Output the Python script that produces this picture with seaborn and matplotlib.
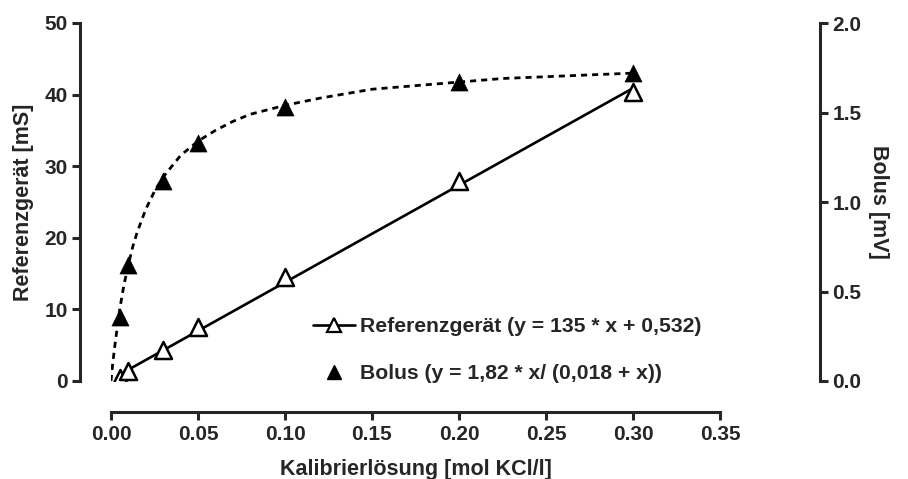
import matplotlib
matplotlib.use("Agg")
import matplotlib.pyplot as plt
from matplotlib.lines import Line2D
import seaborn as sns
import pandas as pd

# measured concentrations [mol KCl/l]
conc = [0.005, 0.01, 0.03, 0.05, 0.1, 0.2, 0.3]
# reference device [mS]
ref_ms = [0.4, 1.4, 4.3, 7.5, 14.5, 28.0, 40.4]
# bolus [mV]
bolus_mv = [0.36, 0.65, 1.12, 1.33, 1.53, 1.67, 1.72]

# fitted lines
ref_fit_x = [0.005, 0.3]
ref_fit_y = [0.9, 40.9]
bolus_fit_x = [0.0, 0.001, 0.0025, 0.005, 0.0075, 0.01, 0.0125, 0.015, 0.02,
               0.025, 0.03, 0.035, 0.04, 0.05, 0.06, 0.07, 0.08, 0.1, 0.12,
               0.15, 0.175, 0.2, 0.225, 0.25, 0.275, 0.3]
bolus_fit_y = [0.0, 0.10, 0.22, 0.40, 0.54, 0.65, 0.75, 0.83, 0.96,
               1.06, 1.14, 1.20, 1.26, 1.34, 1.40, 1.45, 1.49, 1.54, 1.58,
               1.63, 1.65, 1.67, 1.69, 1.70, 1.71, 1.72]

ref_label = "Referenzgerät (y = 135 * x + 0,532)"
bolus_label = "Bolus (y = 1,82 * x/ (0,018 + x))"

sns.set_style("ticks")
plt.rcParams['font.family'] = ['Liberation Sans', 'DejaVu Sans']
plt.rcParams['font.weight'] = 'bold'

PX = 72 / 100  # pixels -> points

fig = plt.figure(figsize=(9.08, 4.79), dpi=100)
ax = fig.add_axes([111 / 908, 1 - 381 / 479, (720 - 111) / 908, (381 - 23) / 479])
ax2 = ax.twinx()

df_ref = pd.DataFrame({"x": conc, "y": ref_ms})
df_bol = pd.DataFrame({"x": conc, "y": bolus_mv})

sns.lineplot(x=ref_fit_x, y=ref_fit_y, ax=ax, color="black", lw=1.9)
sns.scatterplot(data=df_ref, x="x", y="y", ax=ax, marker="^", s=150,
                facecolor="white", edgecolor="black", linewidth=1.8, zorder=3)

sns.lineplot(x=bolus_fit_x, y=bolus_fit_y, ax=ax2, color="black", lw=2.0,
             linestyle=(0, (2.2, 1.8)))
sns.scatterplot(data=df_bol, x="x", y="y", ax=ax2, marker="^", s=150,
                color="black", edgecolor="black", linewidth=0.5, zorder=3)

ax.set_xlim(0, 0.35)
ax.set_ylim(0, 50)
ax2.set_ylim(0, 2.0)
ax.set_xticks([0.0, 0.05, 0.1, 0.15, 0.2, 0.25, 0.3, 0.35])
ax.set_xticklabels([f"{v:.2f}" for v in ax.get_xticks()])
ax.set_yticks([0, 10, 20, 30, 40, 50])
ax2.set_yticks([0.0, 0.5, 1.0, 1.5, 2.0])
ax2.set_yticklabels([f"{v:.1f}" for v in ax2.get_yticks()])

for a in (ax, ax2):
    a.spines['top'].set_visible(False)
    for s in a.spines.values():
        s.set_linewidth(2.2)
    a.tick_params(width=2.2, length=6, labelsize=15, pad=3)
    for lbl in a.get_xticklabels() + a.get_yticklabels():
        lbl.set_fontweight('bold')

ax.spines['right'].set_visible(False)
ax.spines['left'].set_position(('outward', 31 * PX))
ax.spines['bottom'].set_position(('outward', 31 * PX))
ax2.spines['left'].set_visible(False)
ax2.spines['bottom'].set_visible(False)
ax2.spines['right'].set_position(('outward', 100 * PX))

ax.set_xlabel("Kalibrierlösung [mol KCl/l]", fontsize=15.5, fontweight='bold', labelpad=11)
ax.set_ylabel("Referenzgerät [mS]", fontsize=15.5, fontweight='bold', labelpad=7)
ax2.set_ylabel("Bolus [mV]", fontsize=15.5, fontweight='bold', rotation=270, labelpad=20)

handles = [
    Line2D([], [], color="black", lw=1.9, marker="^", markersize=10,
           markerfacecolor="white", markeredgecolor="black", markeredgewidth=1.6),
    Line2D([], [], color="none", marker="^", markersize=10,
           markerfacecolor="black", markeredgecolor="black"),
]
ax.legend(handles, [ref_label, bolus_label], loc="lower left",
          bbox_to_anchor=(0.3, -0.06), frameon=False, handlelength=2.0,
          handletextpad=0.25, labelspacing=1.35,
          prop={'size': 15.2, 'weight': 'bold'})

fig.savefig("out.png", dpi=100)
